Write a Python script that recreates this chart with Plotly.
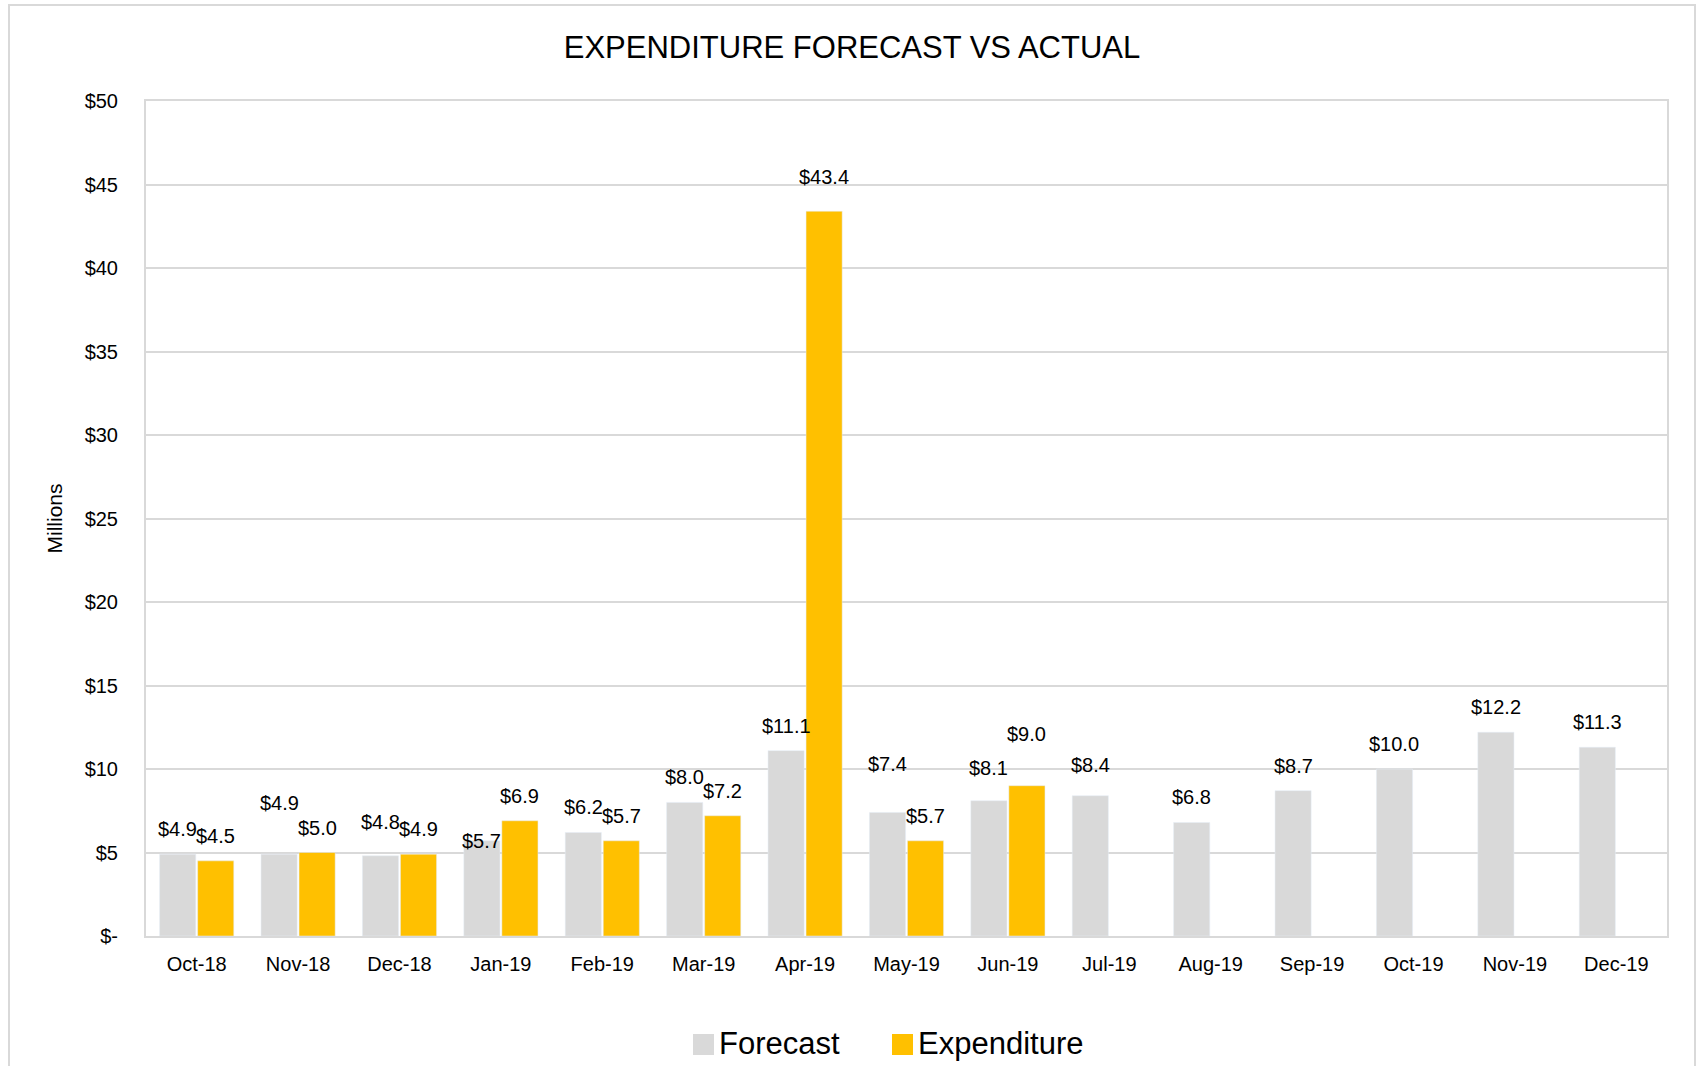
"""
Expenditure forecast vs actual - grouped bar chart
"""
import plotly.graph_objects as go

months = ["Oct-18", "Nov-18", "Dec-18", "Jan-19", "Feb-19", "Mar-19", "Apr-19",
          "May-19", "Jun-19", "Jul-19", "Aug-19", "Sep-19", "Oct-19", "Nov-19", "Dec-19"]
forecast = [4.9, 4.9, 4.8, 5.7, 6.2, 8.0, 11.1, 7.4, 8.1, 8.4, 6.8, 8.7, 10.0, 12.2, 11.3]
expenditure = [4.5, 5.0, 4.9, 6.9, 5.7, 7.2, 43.4, 5.7, 9.0,
               None, None, None, None, None, None]

y_ticks = [0, 5, 10, 15, 20, 25, 30, 35, 40, 45, 50]
y_tick_text = ["$-"] + [f"${v}" for v in y_ticks[1:]]

FONT = "Liberation Sans Narrow, Arial Narrow, Liberation Sans, Arial, sans-serif"
GRID = "#d9d9d9"
GREY = "#d9d9d9"
GOLD = "#ffc000"

W, H = 1700, 1066
L, R, T, B = 146, 33, 101, 130
PW, PH = W - L - R, H - T - B

BARGAP, GROUPGAP = 0.25, 0.05
# centre of each of the two bars relative to the category centre
SLOT = (1 - BARGAP) / 2
OFFSETS = {"Forecast": -SLOT / 2, "Expenditure": SLOT / 2}

LABEL_LIFT = 25  # px from bar top to the middle of its value label
# a few labels were dragged by hand in the original
label_nudge = {
    ("Forecast", "Nov-18"): 26, ("Forecast", "Dec-18"): 9, ("Forecast", "Jan-19"): -25,
    ("Expenditure", "Apr-19"): 9, ("Forecast", "May-19"): 23, ("Forecast", "Jun-19"): 8,
    ("Expenditure", "Jun-19"): 27, ("Forecast", "Jul-19"): 6,
}


def px(x):
    return (x - L) / PW


def py(y):
    return (H - B - y) / PH


fig = go.Figure()
for name, vals, colour in [("Forecast", forecast, GREY), ("Expenditure", expenditure, GOLD)]:
    fig.add_trace(go.Bar(
        x=months, y=vals, name=name,
        marker=dict(color=colour),
        showlegend=False, hovertemplate="%{x}: $%{y:.1f}M<extra>" + name + "</extra>",
    ))
    for i, v in enumerate(vals):
        if v is None:
            continue
        fig.add_annotation(
            x=i + OFFSETS[name], y=v, xref="x", yref="y",
            text=f"${v:.1f}", showarrow=False,
            xanchor="center", yanchor="middle",
            yshift=LABEL_LIFT + label_nudge.get((name, months[i]), 0),
            font=dict(size=20, color="#000000"),
        )

fig.update_layout(
    width=W, height=H,
    margin=dict(l=L, r=R, t=T, b=B, autoexpand=False),
    paper_bgcolor="white", plot_bgcolor="white",
    font=dict(family=FONT, size=20, color="#000000"),
    title=dict(text="EXPENDITURE FORECAST VS ACTUAL", x=852 / W, xanchor="center",
               y=1 - 47 / H, yanchor="middle", font=dict(size=31, color="#000000")),
    barmode="group", bargap=BARGAP, bargroupgap=GROUPGAP,
    showlegend=False,
)

fig.update_xaxes(
    type="category",
    showgrid=False, showline=True, linecolor=GRID, linewidth=2, mirror=True,
    ticks="", ticklabelstandoff=9, tickfont=dict(size=20),
)
fig.update_yaxes(
    range=[0, 50], tickvals=y_ticks, ticktext=y_tick_text,
    showgrid=True, gridcolor=GRID, gridwidth=2,
    showline=True, linecolor=GRID, linewidth=2, mirror=True,
    zeroline=False, ticks="", ticklabelstandoff=22, tickfont=dict(size=20),
    title=dict(text="Millions", font=dict(size=21), standoff=16),
)

# light border round the whole chart area
fig.add_shape(type="rect", xref="paper", yref="paper",
              x0=px(9), x1=px(1695), y0=py(1080), y1=py(5),
              line=dict(color=GRID, width=2), layer="below")

# legend drawn by hand so the swatches are the same size as in the original
legend_items = [("Forecast", GREY, 693), ("Expenditure", GOLD, 892)]
for label, colour, left in legend_items:
    fig.add_shape(type="rect", xref="paper", yref="paper",
                  x0=px(left), x1=px(left + 21), y0=py(1055), y1=py(1034),
                  fillcolor=colour, line=dict(width=0))
    fig.add_annotation(text=label, xref="paper", yref="paper",
                       x=px(left + 25), y=py(1043), xanchor="left", yanchor="middle",
                       showarrow=False, borderpad=0, font=dict(size=31, color="#000000"))

# drop the browser's default 8px body margin so the chart sits at the page corner
fig.write_html("out.html", config={"displayModeBar": False},
               post_script="document.body.style.margin='0';")
